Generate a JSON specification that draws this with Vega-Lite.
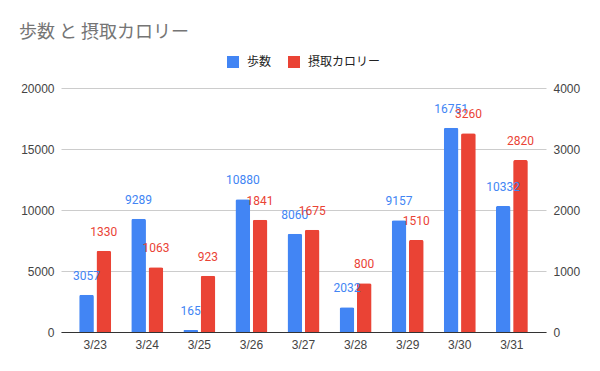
{
  "$schema": "https://vega.github.io/schema/vega-lite/v6.json",
  "width": 485,
  "height": 244,
  "autosize": {"type": "none"},
  "padding": {"left": 61, "top": 88, "right": 54, "bottom": 39},
  "background": "white",
  "title": {
    "text": "歩数 と 摂取カロリー",
    "anchor": "start",
    "frame": "group",
    "dx": -42,
    "offset": 14,
    "font": "Noto Sans CJK JP",
    "fontSize": 18,
    "fontWeight": "normal",
    "color": "#757575"
  },
  "config": {
    "view": {"stroke": null},
    "axis": {
      "labelFont": "Liberation Sans",
      "labelFontSize": 12,
      "labelColor": "#444444",
      "ticks": false,
      "domain": false,
      "title": null,
      "gridColor": "#cccccc"
    },
    "legend": {
      "labelFont": "Noto Sans CJK JP",
      "labelFontSize": 12,
      "labelColor": "#222222",
      "padding": 0
    }
  },
  "data": {
    "values": [
      {"date": "3/23", "series": "歩数", "value": 3057},
      {"date": "3/24", "series": "歩数", "value": 9289},
      {"date": "3/25", "series": "歩数", "value": 165},
      {"date": "3/26", "series": "歩数", "value": 10880},
      {"date": "3/27", "series": "歩数", "value": 8060},
      {"date": "3/28", "series": "歩数", "value": 2032},
      {"date": "3/29", "series": "歩数", "value": 9157},
      {"date": "3/30", "series": "歩数", "value": 16751},
      {"date": "3/31", "series": "歩数", "value": 10332},
      {"date": "3/23", "series": "摂取カロリー", "value": 1330},
      {"date": "3/24", "series": "摂取カロリー", "value": 1063},
      {"date": "3/25", "series": "摂取カロリー", "value": 923},
      {"date": "3/26", "series": "摂取カロリー", "value": 1841},
      {"date": "3/27", "series": "摂取カロリー", "value": 1675},
      {"date": "3/28", "series": "摂取カロリー", "value": 800},
      {"date": "3/29", "series": "摂取カロリー", "value": 1510},
      {"date": "3/30", "series": "摂取カロリー", "value": 3260},
      {"date": "3/31", "series": "摂取カロリー", "value": 2820}
    ]
  },
  "encoding": {
    "x": {
      "field": "date",
      "type": "nominal",
      "sort": null,
      "scale": {"paddingInner": 0.386, "paddingOuter": 0.349},
      "axis": {"labelAngle": 0, "domain": true, "domainColor": "#333333", "labelPadding": 7, "grid": false}
    },
    "xOffset": {
      "field": "series",
      "type": "nominal",
      "scale": {"domain": ["歩数", "摂取カロリー"], "paddingInner": 0.15, "paddingOuter": 0}
    }
  },
  "layer": [
    {
      "transform": [{"filter": "datum.series === '歩数'"}],
      "mark": {"type": "bar", "cornerRadiusTopLeft": 2, "cornerRadiusTopRight": 2},
      "encoding": {
        "y": {
          "field": "value",
          "type": "quantitative",
          "scale": {"domain": [0, 20000], "nice": false},
          "axis": {"orient": "left", "values": [0, 5000, 10000, 15000, 20000], "format": "d", "labelPadding": 7, "grid": true}
        },
        "color": {
          "field": "series",
          "type": "nominal",
          "scale": {"domain": ["歩数", "摂取カロリー"], "range": ["#4285F4", "#EA4335"]},
          "legend": {
            "title": null,
            "orient": "none",
            "direction": "horizontal",
            "legendX": 166,
            "legendY": -32,
            "symbolType": "square",
            "symbolSize": 144,
            "symbolStrokeWidth": 0,
            "labelOffset": 8,
            "columnPadding": 16
          }
        }
      }
    },
    {
      "transform": [{"filter": "datum.series === '摂取カロリー'"}],
      "mark": {"type": "bar", "cornerRadiusTopLeft": 2, "cornerRadiusTopRight": 2},
      "encoding": {
        "y": {
          "field": "value",
          "type": "quantitative",
          "scale": {"domain": [0, 4000], "nice": false},
          "axis": {"orient": "right", "values": [0, 1000, 2000, 3000, 4000], "format": "d", "labelPadding": 7, "grid": false}
        },
        "color": {"field": "series", "type": "nominal"}
      }
    },
    {
      "transform": [{"filter": "datum.series === '歩数'"}],
      "mark": {"type": "text", "font": "Roboto", "fontSize": 12, "color": "#4285F4", "baseline": "alphabetic", "dy": -15},
      "encoding": {
        "y": {"field": "value", "type": "quantitative", "scale": {"domain": [0, 20000], "nice": false}, "axis": null},
        "text": {"field": "value", "type": "quantitative", "format": "d"}
      }
    },
    {
      "transform": [{"filter": "datum.series === '摂取カロリー'"}],
      "mark": {"type": "text", "font": "Roboto", "fontSize": 12, "color": "#EA4335", "baseline": "alphabetic", "dy": -15},
      "encoding": {
        "y": {"field": "value", "type": "quantitative", "scale": {"domain": [0, 4000], "nice": false}, "axis": null},
        "text": {"field": "value", "type": "quantitative", "format": "d"}
      }
    }
  ],
  "resolve": {"scale": {"y": "independent"}}
}
